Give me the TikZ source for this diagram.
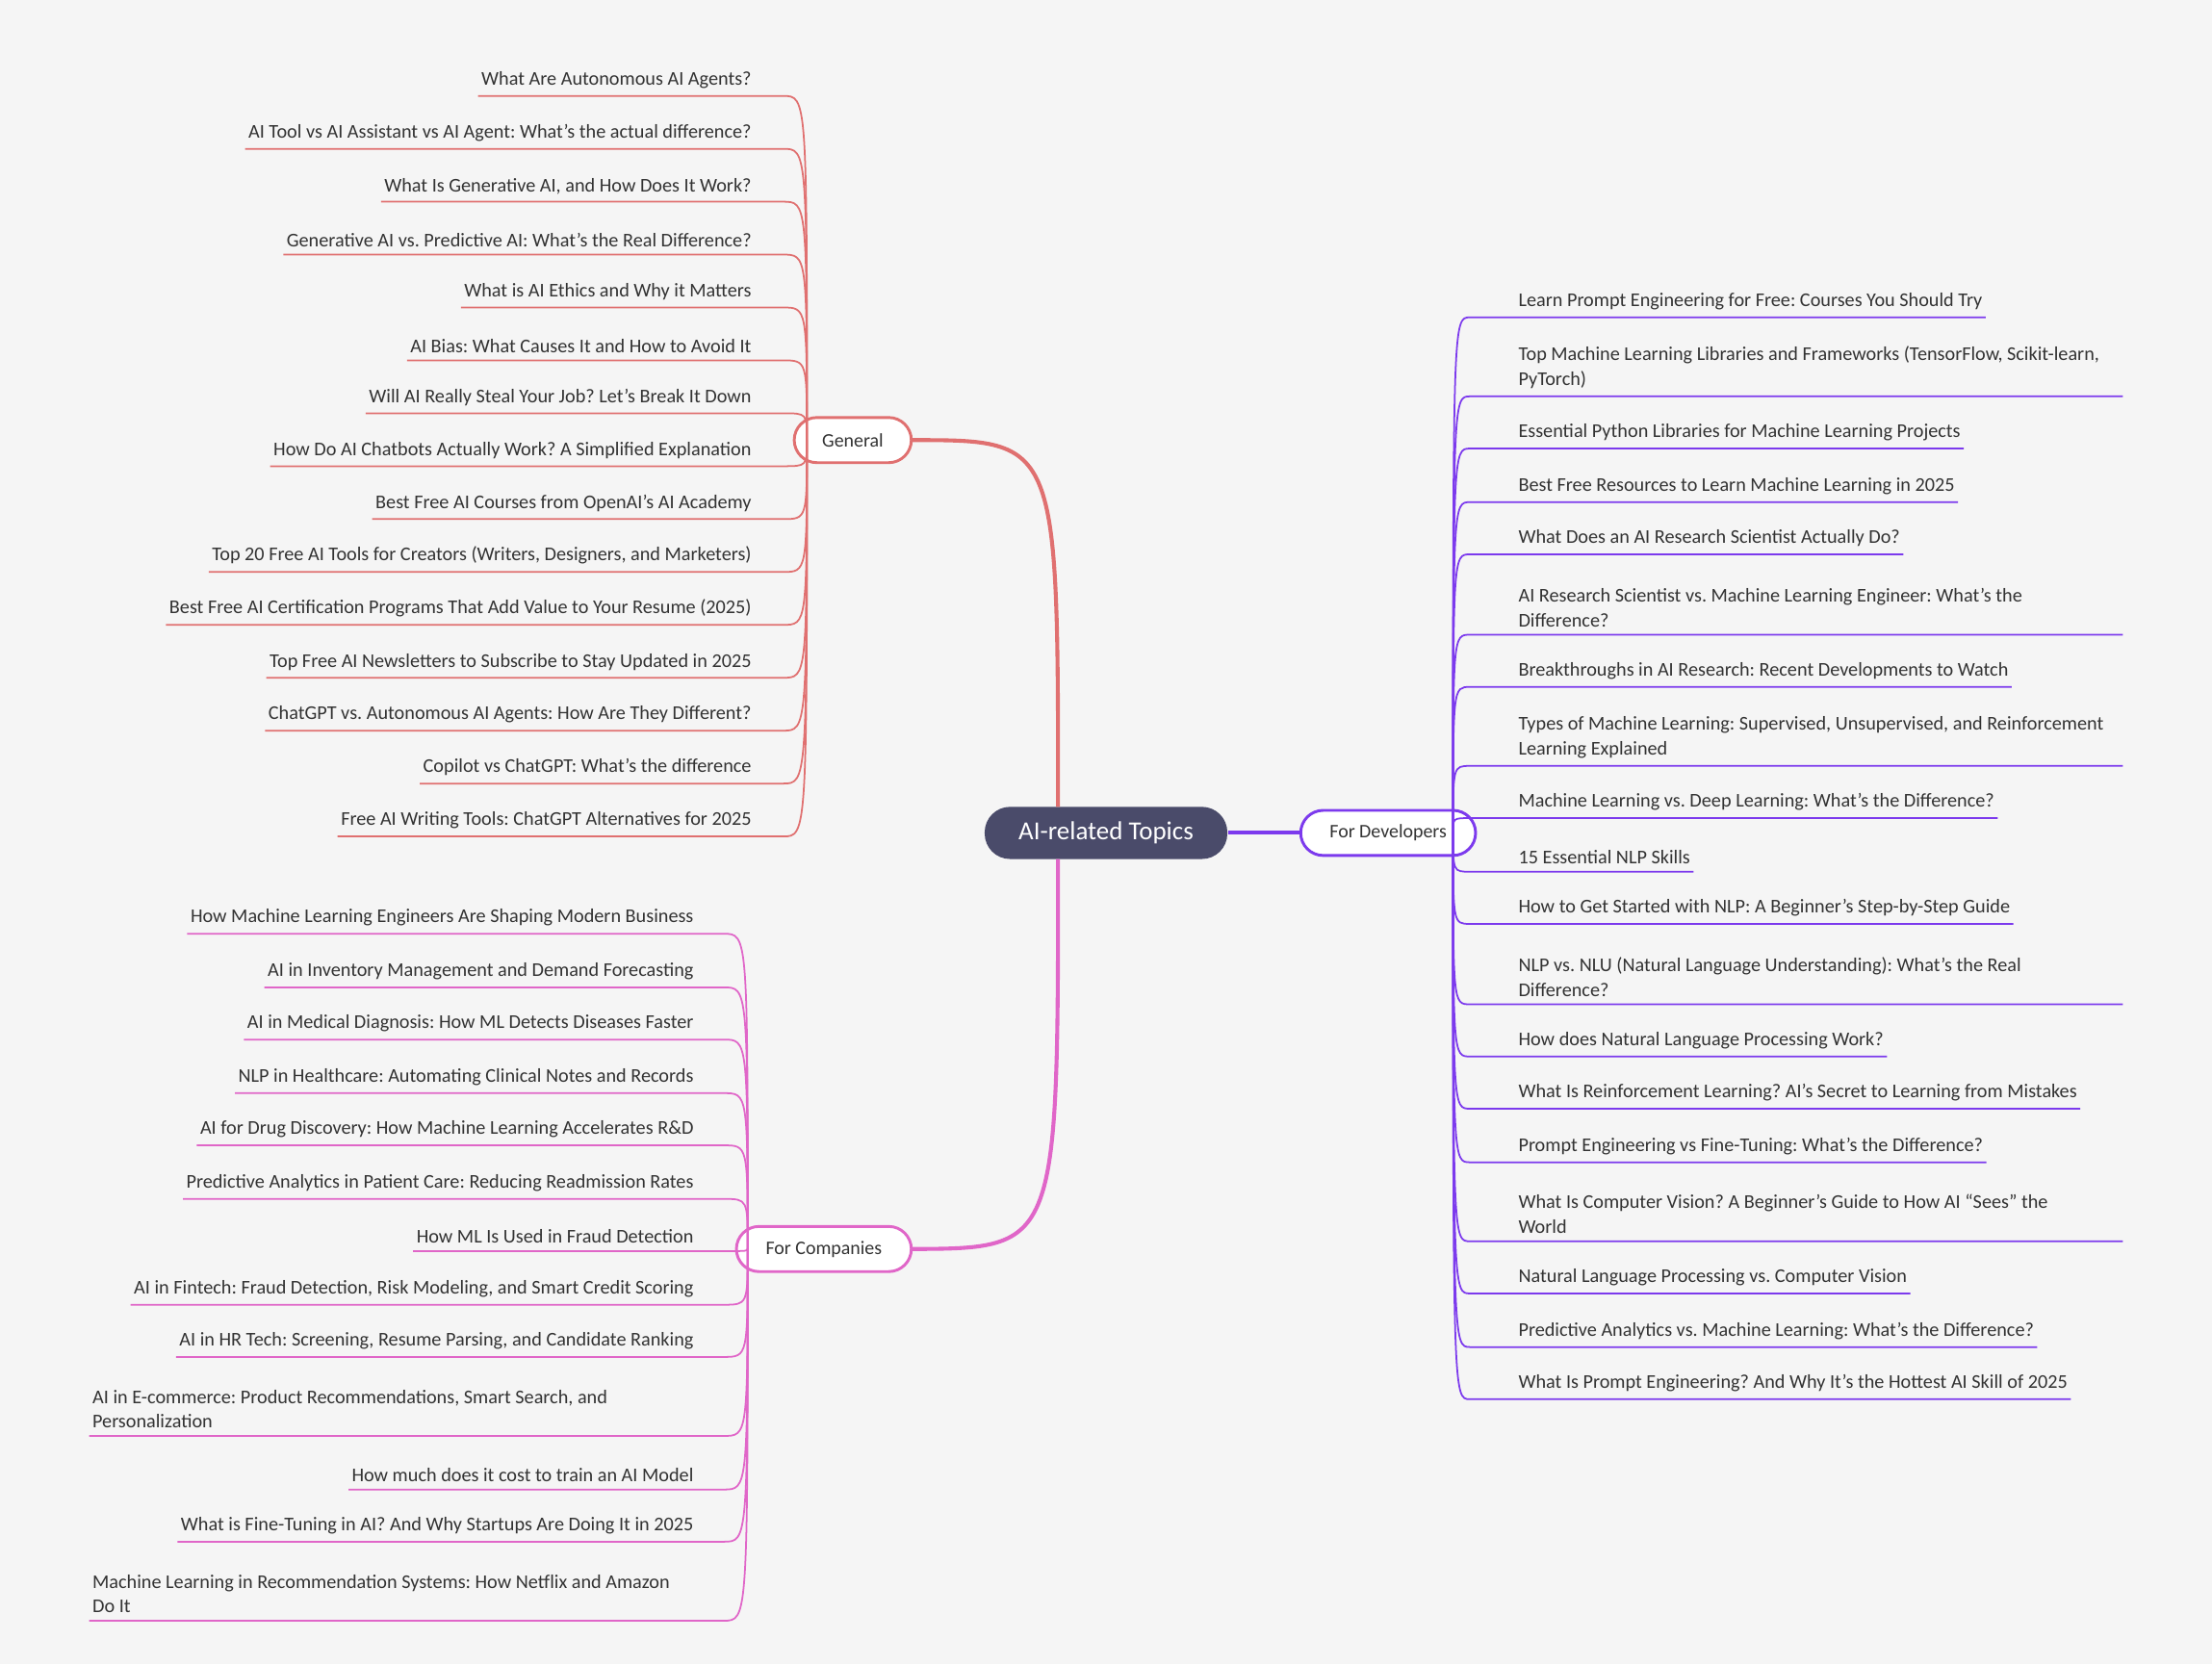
\documentclass[tikz,border=0pt]{standalone}
\usepackage{fontspec}
\setmainfont{Carlito}
\frenchspacing
\hyphenpenalty=10000
\usetikzlibrary{calc}
\definecolor{bg}{HTML}{F5F5F5}
\definecolor{cgen}{HTML}{E07070}
\definecolor{cdev}{HTML}{7C3AED}
\definecolor{ccom}{HTML}{E066C8}
\definecolor{ccen}{HTML}{4A4B6A}
\definecolor{txt}{HTML}{333333}
\begin{document}
\begin{tikzpicture}[x=0.5pt,y=-0.5pt,
 leaf/.style={inner xsep=1pt,inner ysep=2.5pt,text=txt,font=\fontsize{6.9}{8.8}\selectfont},
 gl/.style={leaf,anchor=south east},
 dl0/.style={leaf,anchor=south west},
 dl1/.style={leaf,anchor=south west,text width=213pt,align=flush left},
 cl0/.style={leaf,anchor=south east},
 cl1/.style={leaf,anchor=south east,text width=213pt,align=flush left},
 hub/.style={draw,line width=1pt,fill=white,rounded corners=8pt,text=txt,font=\fontsize{6.8}{8}\selectfont,minimum height=16pt,inner sep=0pt},
 br/.style={line width=0.6pt}]
\fill[bg] (0,0) rectangle (1568,1180);
\useasboundingbox (0,0) rectangle (1568,1180);
\node[fill=ccen,rounded corners=9pt,minimum width=86pt,minimum height=18.5pt,text=white,font=\fontsize{9.2}{11}\selectfont] (cen) at (784,590.5) {AI-related Topics};
\node[hub,draw=cgen,minimum width=41.5pt] (gen) at (604.5,312) {General};
\node[hub,draw=cdev,minimum width=62pt] (dev) at (984,590.5) {For Developers};
\node[hub,draw=ccom,minimum width=62pt] (com) at (584,885.5) {For Companies};
\coordinate (cn) at (750,572);
\coordinate (cs) at (750,609);
\draw[cgen,line width=1.4pt] (gen.east) .. controls (750,312) .. (cn);
\draw[ccom,line width=1.4pt] (com.east) .. controls (750,885) .. (cs);
\draw[cdev,line width=1.4pt] (cen.east) -- (dev.west);
\coordinate (hg) at (572,312);
\coordinate (hd) at (1030,590);
\coordinate (hc) at (530,885);
% General
\foreach \t [count=\i] in {{What Are Autonomous AI Agents?},{AI Tool vs AI Assistant vs AI Agent: What’s the actual difference?},{What Is Generative AI, and How Does It Work?},{Generative AI vs. Predictive AI: What's the Real Difference?},{What is AI Ethics and Why it Matters},{AI Bias: What Causes It and How to Avoid It},{Will AI Really Steal Your Job? Let’s Break It Down},{How Do AI Chatbots Actually Work? A Simplified Explanation},{Best Free AI Courses from OpenAI’s AI Academy},{Top 20 Free AI Tools for Creators (Writers, Designers, and Marketers)},{Best Free AI Certification Programs That Add Value to Your Resume (2025)},{Top Free AI Newsletters to Subscribe to Stay Updated in 2025},{ChatGPT vs. Autonomous AI Agents: How Are They Different?},{Copilot vs ChatGPT: What's the difference},{Free AI Writing Tools: ChatGPT Alternatives for 2025}}{
 \pgfmathsetmacro\u{68+37.5*(\i-1)}
 \node[gl] (g\i) at (535,\u) {\t};
 \draw[cgen,br] (hg) .. controls (572,\u) .. (555,\u) -- (g\i.south west);
}
% Developers
\foreach \u/\w/\t [count=\i] in {225/0/{Learn Prompt Engineering for Free: Courses You Should Try},281/1/{Top Machine Learning Libraries and Frameworks (TensorFlow, Scikit-learn,\\PyTorch)},318/0/{Essential Python Libraries for Machine Learning Projects},356/0/{Best Free Resources to Learn Machine Learning in 2025},393/0/{What Does an AI Research Scientist Actually Do?},450/1/{AI Research Scientist vs. Machine Learning Engineer: What's the\\Difference?},487/0/{Breakthroughs in AI Research: Recent Developments to Watch},543/1/{Types of Machine Learning: Supervised, Unsupervised, and Reinforcement\\Learning Explained},580/0/{Machine Learning vs. Deep Learning: What's the Difference?},618/0/{15 Essential NLP Skills},655/0/{How to Get Started with NLP: A Beginner’s Step-by-Step Guide},712/1/{NLP vs. NLU (Natural Language Understanding): What's the Real\\Difference?},749/0/{How does Natural Language Processing Work?},786/0/{What Is Reinforcement Learning? AI’s Secret to Learning from Mistakes},824/0/{Prompt Engineering vs Fine-Tuning: What's the Difference?},880/1/{What Is Computer Vision? A Beginner’s Guide to How AI “Sees” the\\World},917/0/{Natural Language Processing vs. Computer Vision},955/0/{Predictive Analytics vs. Machine Learning: What’s the Difference?},992/0/{What Is Prompt Engineering? And Why It’s the Hottest AI Skill of 2025}}{
 \node[dl\w] (d\i) at (1074,\u) {\t};
 \draw[cdev,br] (hd) .. controls (1030,\u) .. (1042,\u) -- (d\i.south east);
}
% Companies
\foreach \u/\w/\t [count=\i] in {662/0/{How Machine Learning Engineers Are Shaping Modern Business},700/0/{AI in Inventory Management and Demand Forecasting},737/0/{AI in Medical Diagnosis: How ML Detects Diseases Faster},775/0/{NLP in Healthcare: Automating Clinical Notes and Records},812/0/{AI for Drug Discovery: How Machine Learning Accelerates R\&D},850/0/{Predictive Analytics in Patient Care: Reducing Readmission Rates},887/0/{How ML Is Used in Fraud Detection},925/0/{AI in Fintech: Fraud Detection, Risk Modeling, and Smart Credit Scoring},962/0/{AI in HR Tech: Screening, Resume Parsing, and Candidate Ranking},1018/1/{AI in E-commerce: Product Recommendations, Smart Search, and\\Personalization},1056/0/{How much does it cost to train an AI Model},1093/0/{What is Fine-Tuning in AI? And Why Startups Are Doing It in 2025},1149/1/{Machine Learning in Recommendation Systems: How Netflix and Amazon\\Do It}}{
 \node[cl\w] (c\i) at (494,\u) {\t};
 \draw[ccom,br] (hc) .. controls (530,\u) .. (513,\u) -- (c\i.south west);
}
\end{tikzpicture}
\end{document}
